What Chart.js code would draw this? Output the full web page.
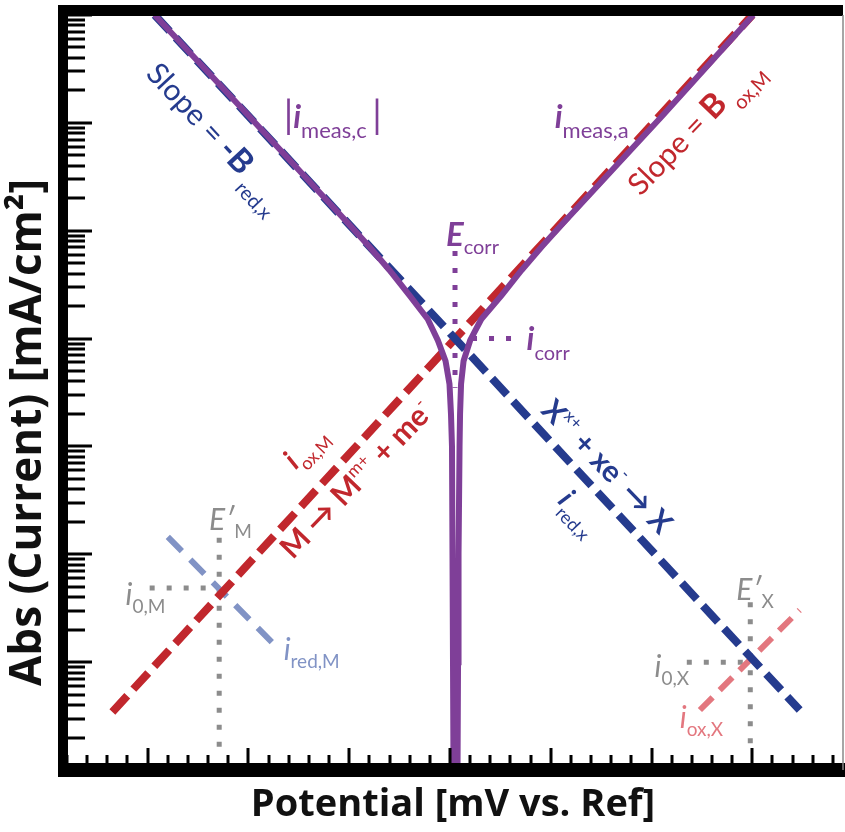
<!DOCTYPE html>
<html>
<head>
<meta charset="utf-8">
<script src="https://cdn.jsdelivr.net/npm/chart.js@4.4.1/dist/chart.umd.min.js"></script>
<style>
  html, body { margin: 0; padding: 0; background: #fff; }
</style>
</head>
<body>
<canvas id="evans" width="845" height="832"></canvas>
<script>
// potential in mV vs. ref, current density in mA/cm2
const measPotential = [7, 100, 200, 220, 240, 260, 278, 288, 295.6, 299.5, 301, 302, 302.5, 303, 303.5,
                       307.5, 308, 308.5, 309.5, 310, 311, 313.5, 320, 331, 351, 371, 391, 411, 511, 601];
const measCurrent   = [10, 1.17, 0.114, 0.071, 0.043, 0.025, 0.0151, 0.0096, 0.0062, 0.0038, 0.002, 0.001, 1e-4, 1e-5, 1e-6,
                       1e-6, 1e-5, 1e-4, 0.001, 0.002, 0.0038, 0.0062, 0.0096, 0.0151, 0.025, 0.043, 0.071, 0.114, 1.17, 10];

const oxMPotential = [-35, 600];
const oxMCurrent   = [3.45e-6, 10];
const redXPotential = [7, 647];
const redXCurrent   = [10, 3.6e-6];
const redMPotential = [20, 128];
const redMCurrent   = [1.45e-4, 1.38e-5];
const oxXPotential = [548, 647];
const oxXCurrent   = [3.6e-6, 3.04e-5];

const eCorrPotential = [305, 305];
const eCorrCurrent   = [0.065, 0.0035];
const iCorrPotential = [305, 368];
const iCorrCurrent   = [0.01, 0.01];
const eMPotential = [71, 71];
const eMCurrent   = [1.42e-4, 1.63e-6];
const i0MPotential = [2, 71];
const i0MCurrent   = [4.86e-5, 4.86e-5];
const eXPotential = [598, 598];
const eXCurrent   = [3.6e-5, 1.63e-6];
const i0XPotential = [535, 598];
const i0XCurrent   = [1e-5, 1e-5];

const navy = '#253b8e', red = '#c1272d', purple = '#7f3f98', gray = '#8c8c8c',
      lightBlue = '#8193c5', salmon = '#e3777f';

function pts(xs, ys) {
  return xs.map((x, i) => ({x: x, y: ys[i]}));
}

function line(xs, ys, color, width, dash, order) {
  return {
    data: pts(xs, ys),
    borderColor: color,
    borderWidth: width,
    borderDash: dash,
    borderCapStyle: 'butt',
    pointRadius: 0,
    tension: 0,
    fill: false,
    order: order
  };
}

// text labels, anchored in data coordinates
const F = 'Lato, "Open Sans", sans-serif';
const labels = [
  {x: -3, y: 2.8, angle: 47, runs: [
    {t: 'Slope = ', f: '30px ' + F, c: navy},
    {t: '-B', f: 'bold 33px ' + F, c: navy},
    {t: ' red,x', f: '20px ' + F, c: navy, dy: 13}]},
  {x: 135, y: 0.9, runs: [
    {t: '|', f: '38px ' + F, c: purple},
    {t: 'i', f: 'italic bold 32px ' + F, c: purple},
    {t: 'meas,c ', f: '22px ' + F, c: purple, dy: 10},
    {t: '|', f: '38px ' + F, c: purple}]},
  {x: 404, y: 0.9, runs: [
    {t: 'i', f: 'italic bold 32px ' + F, c: purple},
    {t: 'meas,a', f: '22px ' + F, c: purple, dy: 10}]},
  {x: 489, y: 0.205, angle: -46, runs: [
    {t: 'Slope = ', f: '30px ' + F, c: red},
    {t: 'B', f: 'bold 33px ' + F, c: red},
    {t: ' ox,M', f: '20px ' + F, c: red, dy: 13}]},
  {x: 296, y: 0.072, runs: [
    {t: 'E', f: 'italic bold 33px ' + F, c: purple},
    {t: 'corr', f: '20px ' + F, c: purple, dy: 8}]},
  {x: 376, y: 0.0078, runs: [
    {t: 'i', f: 'italic bold 32px ' + F, c: purple},
    {t: 'corr', f: '20px ' + F, c: purple, dy: 10}]},
  {x: 147, y: 6e-4, angle: -46, runs: [
    {t: 'i', f: 'italic bold 29px ' + F, c: red},
    {t: 'ox,M', f: '18px ' + F, c: red, dy: 9}]},
  {x: 144, y: 8.8e-5, angle: -46, runs: [
    {t: 'M \u2192 M', f: 'bold 30px ' + F, c: red},
    {t: 'm+', f: '17px ' + F, c: red, dy: -13},
    {t: ' + me', f: 'bold 30px ' + F, c: red},
    {t: '-', f: '17px ' + F, c: red, dy: -13}]},
  {x: 389, y: 2.1e-3, angle: 46, runs: [
    {t: 'X', f: 'bold 30px ' + F, c: navy},
    {t: 'x+', f: '17px ' + F, c: navy, dy: -13},
    {t: ' + xe', f: 'bold 30px ' + F, c: navy},
    {t: '-', f: '17px ' + F, c: navy, dy: -13},
    {t: ' \u2192 X', f: 'bold 30px ' + F, c: navy}]},
  {x: 406, y: 3.05e-4, angle: 46, runs: [
    {t: 'i', f: 'italic bold 29px ' + F, c: navy},
    {t: 'red,x', f: '18px ' + F, c: navy, dy: 10}]},
  {x: 61, y: 1.68e-4, runs: [
    {t: 'E\u2032', f: 'italic 30px ' + F, c: gray},
    {t: 'M', f: '19px ' + F, c: gray, dy: 8}]},
  {x: -22, y: 3.4e-5, runs: [
    {t: 'i', f: 'italic 30px ' + F, c: gray},
    {t: '0,M', f: '19px ' + F, c: gray, dy: 8}]},
  {x: 135, y: 1.05e-5, runs: [
    {t: 'i', f: 'italic 30px ' + F, c: lightBlue},
    {t: 'red,M', f: '19px ' + F, c: lightBlue, dy: 8}]},
  {x: 584, y: 3.77e-5, runs: [
    {t: 'E\u2032', f: 'italic 30px ' + F, c: gray},
    {t: 'X', f: '19px ' + F, c: gray, dy: 8}]},
  {x: 503, y: 7.3e-6, runs: [
    {t: 'i', f: 'italic 30px ' + F, c: gray},
    {t: '0,X', f: '19px ' + F, c: gray, dy: 8}]},
  {x: 528, y: 2.45e-6, runs: [
    {t: 'i', f: 'italic 30px ' + F, c: salmon},
    {t: 'ox,X', f: '19px ' + F, c: salmon, dy: 8}]}
];

const labelPlugin = {
  id: 'labels',
  afterDatasetsDraw(chart) {
    const ctx = chart.ctx;
    const xs = chart.scales.x, ys = chart.scales.y;
    ctx.save();
    ctx.textBaseline = 'alphabetic';
    for (const l of labels) {
      ctx.save();
      ctx.translate(xs.getPixelForValue(l.x), ys.getPixelForValue(l.y));
      ctx.rotate((l.angle || 0) * Math.PI / 180);
      let cx = 0;
      for (const r of l.runs) {
        ctx.font = r.f;
        ctx.fillStyle = r.c;
        ctx.fillText(r.t, cx, r.dy || 0);
        cx += ctx.measureText(r.t).width;
      }
      ctx.restore();
    }
    ctx.restore();
  }
};

// heavy frame with inward ticks
const framePlugin = {
  id: 'frame',
  afterDraw(chart) {
    const ctx = chart.ctx;
    const {left, right, top, bottom} = chart.chartArea;
    const xs = chart.scales.x, ys = chart.scales.y;
    ctx.save();
    ctx.fillStyle = '#000';
    ctx.strokeStyle = '#000';
    ctx.lineWidth = 3;
    ctx.beginPath();
    for (let e = -6; e <= 1; e++) {
      for (let m = 1; m <= 9; m++) {
        const v = m * Math.pow(10, e);
        if (v > 10.0001) continue;
        const py = Math.round(ys.getPixelForValue(v));
        ctx.moveTo(left, py);
        ctx.lineTo(left + (m === 1 ? 29 : 22), py);
      }
    }
    for (let v = -80; v <= 680; v += 20) {
      const px = Math.round(xs.getPixelForValue(v));
      ctx.moveTo(px, bottom);
      ctx.lineTo(px, bottom - (v % 100 === 0 ? 22 : 15));
    }
    ctx.stroke();
    ctx.fillRect(left - 5, top - 10, right - left + 5, 11);
    ctx.fillRect(left - 5, top - 10, 10, bottom - top + 17);
    ctx.fillRect(left - 5, bottom - 7, right - left + 7, 14);
    ctx.strokeStyle = '#888';
    ctx.lineWidth = 1.5;
    ctx.beginPath();
    ctx.moveTo(right, top);
    ctx.lineTo(right, bottom);
    ctx.stroke();
    ctx.restore();
  }
};

const ctx = document.getElementById('evans').getContext('2d');

new Chart(ctx, {
  type: 'line',
  data: {
    datasets: [
      line(measPotential, measCurrent, purple, 6, [], 0),
      line(redXPotential, redXCurrent, navy, 8, [22, 9], 1),
      line(oxMPotential, oxMCurrent, red, 8, [22, 9], 1),
      line(redMPotential, redMCurrent, lightBlue, 6, [20, 12], 2),
      line(oxXPotential, oxXCurrent, salmon, 6, [18, 10], 2),
      line(eCorrPotential, eCorrCurrent, purple, 5, [5, 12], 2),
      line(iCorrPotential, iCorrCurrent, purple, 5, [5, 12], 2),
      line(eMPotential, eMCurrent, gray, 5, [5, 12], 3),
      line(i0MPotential, i0MCurrent, gray, 5, [5, 12], 3),
      line(eXPotential, eXCurrent, gray, 5, [5, 12], 3),
      line(i0XPotential, i0XCurrent, gray, 5, [5, 12], 3)
    ]
  },
  options: {
    responsive: false,
    animation: false,
    devicePixelRatio: 1,
    layout: {padding: {top: 15, right: 2, left: 0, bottom: 0}},
    plugins: {legend: {display: false}, tooltip: {enabled: false}},
    scales: {
      x: {
        type: 'linear',
        min: -84,
        max: 690,
        grid: {display: false, drawTicks: false},
        border: {display: false},
        ticks: {display: false},
        title: {
          display: true,
          text: 'Potential [mV vs. Ref]',
          color: '#111',
          font: {family: '"Open Sans", sans-serif', size: 38, weight: 'bold', lineHeight: 1},
          padding: {top: 16, bottom: 8}
        }
      },
      y: {
        type: 'logarithmic',
        min: 1e-6,
        max: 10,
        grid: {display: false, drawTicks: false},
        border: {display: false},
        ticks: {display: false},
        title: {
          display: true,
          // trailing no-break spaces push the title a little toward the bottom, as in the figure
          text: 'Abs (Current) [mA/cm\u00B2]\u00A0\u00A0\u00A0\u00A0\u00A0\u00A0\u00A0',
          color: '#111',
          font: {family: '"Open Sans", sans-serif', size: 44, weight: 'bold', lineHeight: 1},
          padding: {top: 6, bottom: 13}
        }
      }
    }
  },
  plugins: [framePlugin, labelPlugin]
});
</script>
</body>
</html>
